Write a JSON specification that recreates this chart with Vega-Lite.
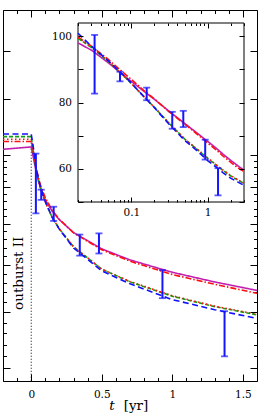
{
  "$schema": "https://vega.github.io/schema/vega-lite/v6.json",
  "width": 254,
  "height": 371,
  "autosize": {"type": "none"},
  "padding": {"left": 3, "top": 10, "right": 4, "bottom": 39},
  "background": "white",
  "config": {
    "view": {"stroke": "black", "strokeWidth": 1},
    "axis": {"domain": false, "grid": false, "labelFont": "DejaVu Serif", "labelFontSize": 10.5, "labelColor": "black", "tickColor": "black", "tickWidth": 1, "titleFont": "DejaVu Serif", "titleColor": "black", "titleFontWeight": "normal", "titleFontSize": 13.5}
  },
  "datasets": {
    "curves": [
      {"m": "M", "t": -0.2, "v": 101.8}, {"m": "M", "t": 0, "v": 102.6}, {"m": "M", "t": 0.02, "v": 98.0}, {"m": "M", "t": 0.03, "v": 95.8}, {"m": "M", "t": 0.05, "v": 92.0}, {"m": "M", "t": 0.07, "v": 89.2}, {"m": "M", "t": 0.1, "v": 86.4}, {"m": "M", "t": 0.15, "v": 83.2}, {"m": "M", "t": 0.2, "v": 81.0}, {"m": "M", "t": 0.3, "v": 77.7}, {"m": "M", "t": 0.5, "v": 73.7}, {"m": "M", "t": 0.7, "v": 71.1}, {"m": "M", "t": 1.0, "v": 68.3}, {"m": "M", "t": 1.3, "v": 66.2}, {"m": "M", "t": 1.6, "v": 64.4}, {"m": "M", "t": 2.0, "v": 62.6}, {"m": "M", "t": 2.5, "v": 60.9}, {"m": "M", "t": 3.0, "v": 59.6},
      {"m": "R1", "t": -0.2, "v": 104.4}, {"m": "R1", "t": 0, "v": 104.4}, {"m": "R1", "t": 0.02, "v": 99.8}, {"m": "R1", "t": 0.03, "v": 97.0}, {"m": "R1", "t": 0.05, "v": 93.0}, {"m": "R1", "t": 0.07, "v": 90.0}, {"m": "R1", "t": 0.1, "v": 87.0}, {"m": "R1", "t": 0.15, "v": 83.4}, {"m": "R1", "t": 0.2, "v": 81.1}, {"m": "R1", "t": 0.3, "v": 77.6}, {"m": "R1", "t": 0.5, "v": 73.5}, {"m": "R1", "t": 0.7, "v": 70.8}, {"m": "R1", "t": 1.0, "v": 67.8}, {"m": "R1", "t": 1.3, "v": 65.7}, {"m": "R1", "t": 1.6, "v": 63.8}, {"m": "R1", "t": 2.0, "v": 62.0}, {"m": "R1", "t": 2.5, "v": 60.3}, {"m": "R1", "t": 3.0, "v": 59.2},
      {"m": "G", "t": -0.2, "v": 106.1}, {"m": "G", "t": 0, "v": 106.1}, {"m": "G", "t": 0.02, "v": 99.4}, {"m": "G", "t": 0.03, "v": 96.6}, {"m": "G", "t": 0.05, "v": 92.4}, {"m": "G", "t": 0.07, "v": 89.2}, {"m": "G", "t": 0.1, "v": 85.8}, {"m": "G", "t": 0.15, "v": 81.5}, {"m": "G", "t": 0.2, "v": 78.6}, {"m": "G", "t": 0.3, "v": 74.2}, {"m": "G", "t": 0.5, "v": 69.0}, {"m": "G", "t": 0.7, "v": 66.2}, {"m": "G", "t": 1.0, "v": 63.2}, {"m": "G", "t": 1.3, "v": 61.1}, {"m": "G", "t": 1.6, "v": 59.5}, {"m": "G", "t": 2.0, "v": 57.9}, {"m": "G", "t": 2.5, "v": 56.6}, {"m": "G", "t": 3.0, "v": 55.6},
      {"m": "R2", "t": -0.2, "v": 105.2}, {"m": "R2", "t": 0, "v": 105.2}, {"m": "R2", "t": 0.02, "v": 99.6}, {"m": "R2", "t": 0.03, "v": 96.7}, {"m": "R2", "t": 0.05, "v": 92.5}, {"m": "R2", "t": 0.07, "v": 89.3}, {"m": "R2", "t": 0.1, "v": 85.8}, {"m": "R2", "t": 0.15, "v": 81.5}, {"m": "R2", "t": 0.2, "v": 78.6}, {"m": "R2", "t": 0.3, "v": 74.2}, {"m": "R2", "t": 0.5, "v": 69.0}, {"m": "R2", "t": 0.7, "v": 66.3}, {"m": "R2", "t": 1.0, "v": 63.3}, {"m": "R2", "t": 1.3, "v": 61.2}, {"m": "R2", "t": 1.6, "v": 59.6}, {"m": "R2", "t": 2.0, "v": 58.0}, {"m": "R2", "t": 2.5, "v": 56.7}, {"m": "R2", "t": 3.0, "v": 55.7},
      {"m": "B", "t": -0.2, "v": 107.0}, {"m": "B", "t": 0, "v": 107.0}, {"m": "B", "t": 0.02, "v": 100.9}, {"m": "B", "t": 0.03, "v": 97.0}, {"m": "B", "t": 0.05, "v": 92.6}, {"m": "B", "t": 0.07, "v": 89.4}, {"m": "B", "t": 0.1, "v": 85.9}, {"m": "B", "t": 0.15, "v": 81.5}, {"m": "B", "t": 0.2, "v": 78.5}, {"m": "B", "t": 0.3, "v": 73.9}, {"m": "B", "t": 0.5, "v": 68.6}, {"m": "B", "t": 0.7, "v": 65.8}, {"m": "B", "t": 1.0, "v": 62.5}, {"m": "B", "t": 1.3, "v": 60.5}, {"m": "B", "t": 1.6, "v": 58.8}, {"m": "B", "t": 2.0, "v": 57.2}, {"m": "B", "t": 2.5, "v": 56.0}, {"m": "B", "t": 3.0, "v": 55.0}
    ],
    "bars": [
      {"t": 0.033, "lo": 82.7, "hi": 100.4},
      {"t": 0.071, "lo": 86.4, "hi": 89.3},
      {"t": 0.159, "lo": 80.7, "hi": 84.5},
      {"t": 0.344, "lo": 72.1, "hi": 77.2},
      {"t": 0.48, "lo": 72.6, "hi": 77.5},
      {"t": 0.93, "lo": 62.8, "hi": 68.8},
      {"t": 1.37, "lo": 52.0, "hi": 60.2}
    ],
    "onset": [{"t": 0, "top": 104, "bottom": 48}],
    "label": [{"t": -0.058, "v": 68.1, "text": "outburst II"}],
    "frame": [{"x1": 0.02, "x2": 3, "y1": 50, "y2": 104}]
  },
  "layer": [
    {
      "layer": [
        {
          "data": {"name": "onset"},
          "mark": {"type": "rule", "color": "black", "strokeWidth": 1, "strokeDash": [1, 2]},
          "encoding": {
            "x": {"field": "t", "type": "quantitative", "scale": {"domain": [-0.2, 1.6], "nice": false, "zero": false},
              "axis": {"orient": "top", "values": [-0.2, -0.1, 0, 0.1, 0.2, 0.3, 0.4, 0.5, 0.6, 0.7, 0.8, 0.9, 1, 1.1, 1.2, 1.3, 1.4, 1.5, 1.6], "tickSize": {"condition": {"test": "abs(datum.value*2-round(datum.value*2))<0.001", "value": -7}, "value": -3.5}, "labels": false, "title": null}},
            "y": {"field": "top", "type": "quantitative", "scale": {"type": "log", "domain": [48, 160], "nice": false},
              "axis": {"orient": "right", "values": [50, 52, 54, 56, 58, 60, 62, 64, 66, 68, 70, 72, 74, 76, 78, 80, 82, 84, 86, 88, 90, 92, 94, 96, 98, 100, 120, 140], "tickSize": {"condition": {"test": "datum.value%10==0", "value": -7}, "value": -3.5}, "labels": false, "title": null}},
            "y2": {"field": "bottom"}
          }
        },
        {
          "data": {"name": "curves"},
          "mark": {"type": "line", "clip": true, "strokeWidth": 1.6},
          "encoding": {
            "x": {"field": "t", "type": "quantitative", "scale": {"domain": [-0.2, 1.6], "nice": false, "zero": false},
              "axis": {"orient": "bottom", "values": [-0.2, -0.1, 0, 0.1, 0.2, 0.3, 0.4, 0.5, 0.6, 0.7, 0.8, 0.9, 1, 1.1, 1.2, 1.3, 1.4, 1.5, 1.6], "format": "~g", "tickSize": {"condition": {"test": "abs(datum.value*2-round(datum.value*2))<0.001", "value": -7}, "value": -3.5}, "labelExpr": "abs(datum.value*2-round(datum.value*2))<0.001 && datum.value>=0 ? datum.label : ''", "labelPadding": 15.5, "title": "t", "titleFontStyle": "italic", "titleX": 108.5, "titleY": 28.5, "titleAlign": "center", "titleBaseline": "alphabetic"}},
            "y": {"field": "v", "type": "quantitative", "scale": {"type": "log", "domain": [48, 160], "nice": false},
              "axis": {"orient": "left", "values": [50, 52, 54, 56, 58, 60, 62, 64, 66, 68, 70, 72, 74, 76, 78, 80, 82, 84, 86, 88, 90, 92, 94, 96, 98, 100, 120, 140], "tickSize": {"condition": {"test": "datum.value%10==0", "value": -7}, "value": -3.5}, "labels": false, "title": null}},
            "color": {"field": "m", "type": "nominal", "scale": {"domain": ["M", "R1", "G", "R2", "B"], "range": ["#c21fb0", "#ff1010", "#10a010", "#ff1010", "#1010ff"]}, "legend": null},
            "strokeDash": {"field": "m", "type": "nominal", "scale": {"domain": ["M", "R1", "G", "R2", "B"], "range": [[1, 0], [6, 2, 1.5, 2], [4, 2], [1.5, 2.5], [6, 3.5]]}, "legend": null}
          }
        },
        {
          "data": {"name": "bars"},
          "mark": {"type": "rule", "color": "#1515ff", "strokeWidth": 2, "clip": true},
          "encoding": {
            "x": {"field": "t", "type": "quantitative", "axis": null},
            "y": {"field": "lo", "type": "quantitative", "axis": null},
            "y2": {"field": "hi"}
          }
        },
        {
          "data": {"name": "bars"},
          "mark": {"type": "tick", "orient": "horizontal", "color": "#1515ff", "size": 7, "thickness": 1.8, "clip": true},
          "encoding": {
            "x": {"field": "t", "type": "quantitative", "axis": null},
            "y": {"field": "lo", "type": "quantitative", "axis": null}
          }
        },
        {
          "data": {"name": "bars"},
          "mark": {"type": "tick", "orient": "horizontal", "color": "#1515ff", "size": 7, "thickness": 1.8, "clip": true},
          "encoding": {
            "x": {"field": "t", "type": "quantitative", "axis": null},
            "y": {"field": "hi", "type": "quantitative", "axis": null}
          }
        },
        {
          "data": {"name": "label"},
          "mark": {"type": "text", "angle": 270, "font": "DejaVu Serif", "fontSize": 13.5, "color": "black", "align": "center", "baseline": "alphabetic"},
          "encoding": {
            "x": {"field": "t", "type": "quantitative",
              "axis": {"orient": "bottom", "ticks": false, "labels": false, "domain": false, "title": "[yr]", "titleX": 132.5, "titleY": 28.5, "titleAlign": "center", "titleBaseline": "alphabetic"}},
            "y": {"field": "v", "type": "quantitative", "axis": null},
            "text": {"field": "text"}
          }
        }
      ],
      "resolve": {"scale": {"x": "shared", "y": "shared"}, "axis": {"x": "independent", "y": "independent"}}
    },
    {
      "layer": [
        {
          "data": {"name": "frame"},
          "mark": {"type": "rect", "fill": "white", "stroke": "black", "strokeWidth": 1},
          "encoding": {
            "x": {"field": "x1", "type": "quantitative", "scale": {"type": "log", "domain": [0.02, 3], "range": [75, 241], "nice": false},
              "axis": {"orient": "bottom", "offset": -179, "zindex": 1, "values": [0.02, 0.03, 0.04, 0.05, 0.06, 0.07, 0.08, 0.09, 0.1, 0.2, 0.3, 0.4, 0.5, 0.6, 0.7, 0.8, 0.9, 1, 2, 3], "tickSize": {"condition": {"test": "datum.value==0.1 || datum.value==1", "value": -5}, "value": -2.5}, "labelExpr": "datum.value==0.1 ? '0.1' : (datum.value==1 ? '1' : '')", "labelPadding": 10, "title": null}},
            "x2": {"field": "x2"},
            "y": {"field": "y1", "type": "quantitative", "scale": {"domain": [50, 104], "range": [192, 13], "nice": false, "zero": false},
              "axis": {"orient": "left", "offset": -75, "zindex": 1, "values": [50, 60, 70, 80, 90, 100], "tickSize": -5, "labelExpr": "datum.value%20==0 ? datum.label : ''", "labelPadding": 11.5, "title": null}},
            "y2": {"field": "y2"}
          }
        },
        {
          "data": {"name": "curves"},
          "transform": [{"filter": {"field": "t", "gt": 0.01}}],
          "mark": {"type": "line", "strokeWidth": 1.6},
          "encoding": {
            "x": {"field": "t", "type": "quantitative", "scale": {"type": "log", "domain": [0.02, 3], "range": [75, 241], "nice": false},
              "axis": {"orient": "top", "offset": -13, "zindex": 1, "values": [0.02, 0.03, 0.04, 0.05, 0.06, 0.07, 0.08, 0.09, 0.1, 0.2, 0.3, 0.4, 0.5, 0.6, 0.7, 0.8, 0.9, 1, 2, 3], "tickSize": {"condition": {"test": "datum.value==0.1 || datum.value==1", "value": -5}, "value": -2.5}, "labels": false, "title": null}},
            "y": {"field": "v", "type": "quantitative", "scale": {"domain": [50, 104], "range": [192, 13], "nice": false, "zero": false},
              "axis": {"orient": "right", "offset": -13, "zindex": 1, "values": [50, 60, 70, 80, 90, 100], "tickSize": -5, "labels": false, "title": null}},
            "color": {"field": "m", "type": "nominal", "scale": {"domain": ["M", "R1", "G", "R2", "B"], "range": ["#c21fb0", "#ff1010", "#10a010", "#ff1010", "#1010ff"]}, "legend": null},
            "strokeDash": {"field": "m", "type": "nominal", "scale": {"domain": ["M", "R1", "G", "R2", "B"], "range": [[1, 0], [6, 2, 1.5, 2], [4, 2], [1.5, 2.5], [6, 3.5]]}, "legend": null}
          }
        },
        {
          "data": {"name": "bars"},
          "mark": {"type": "rule", "color": "#1515ff", "strokeWidth": 2},
          "encoding": {
            "x": {"field": "t", "type": "quantitative", "axis": null},
            "y": {"field": "lo", "type": "quantitative", "axis": null},
            "y2": {"field": "hi"}
          }
        },
        {
          "data": {"name": "bars"},
          "mark": {"type": "tick", "orient": "horizontal", "color": "#1515ff", "size": 7, "thickness": 1.8},
          "encoding": {
            "x": {"field": "t", "type": "quantitative", "axis": null},
            "y": {"field": "lo", "type": "quantitative", "axis": null}
          }
        },
        {
          "data": {"name": "bars"},
          "mark": {"type": "tick", "orient": "horizontal", "color": "#1515ff", "size": 7, "thickness": 1.8},
          "encoding": {
            "x": {"field": "t", "type": "quantitative", "axis": null},
            "y": {"field": "hi", "type": "quantitative", "axis": null}
          }
        }
      ],
      "resolve": {"scale": {"x": "shared", "y": "shared"}, "axis": {"x": "independent", "y": "independent"}}
    }
  ],
  "resolve": {"scale": {"x": "independent", "y": "independent"}, "axis": {"x": "independent", "y": "independent"}}
}
